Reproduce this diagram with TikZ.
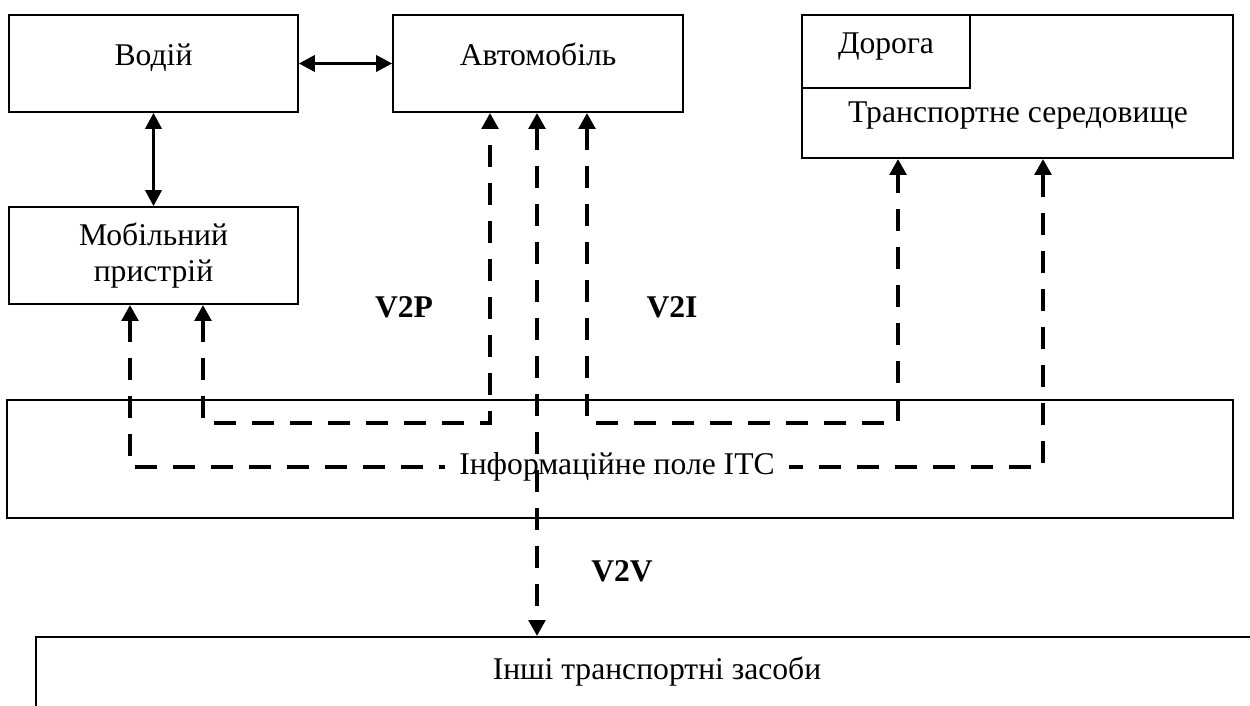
\documentclass[tikz,border=0pt]{standalone}
\usepackage{fontspec}
\setmainfont{Liberation Serif}
\usetikzlibrary{arrows.meta,positioning,calc}

\begin{document}
\begin{tikzpicture}[x=0.02cm,y=-0.02cm,>={Triangle[width=0.33cm,length=0.32cm]},
    block/.style={draw,line width=1.1pt,inner sep=0pt,font=\fontsize{18}{20}\selectfont},
    onerow/.style={text height=0.4cm,text depth=0.3cm},
    caption/.style={font=\fontsize{18}{20}\selectfont,inner sep=0pt},
    tag/.style={font=\fontsize{18}{20}\selectfont\bfseries,inner sep=0pt},
    link/.style={line width=1.4pt,<->},
    radio/.style={line width=2.8pt,dash pattern=on 0.44cm off 0.32cm,<->}]

    \useasboundingbox (0,0) rectangle (1250,706);
    \clip (0,0) rectangle (1250,706);

    \node[block,onerow,minimum width=5.78cm,minimum height=1.94cm] (vodii) at (153.5,63.5) {Водій};
    \node[block,onerow,minimum width=5.8cm,minimum height=1.94cm] (avto) at (538,63.5) {Автомобіль};
    \node[block,minimum width=5.78cm,minimum height=1.94cm,align=center] (mobil) at (153.5,255.5) {Мобільний\\пристрій};
    \node[block,minimum width=8.62cm,minimum height=2.86cm] (seredov) at (1017.5,86.5) {};
    \node[block,onerow,minimum width=3.36cm,minimum height=1.46cm] (doroga) at (886,51.5) {Дорога};
    \node[caption,anchor=base] (seredovtxt) at (1018,122) {Транспортне середовище};
    \node[block,minimum width=24.52cm,minimum height=2.36cm] (itc) at (620,459) {};
    \node[block,minimum width=25.3cm,minimum height=2.5cm,anchor=north west] (inshi) at (35,636) {};
    \node[caption] (inshitxt) at (657,672) {Інші транспортні засоби};

    \coordinate (rail1) at (0,423);
    \coordinate (rail2) at (0,467);
    \coordinate (m1) at ([xshift=-0.47cm]mobil.south);
    \coordinate (m2) at ([xshift=0.99cm]mobil.south);
    \coordinate (a1) at ([xshift=-0.96cm]avto.south);
    \coordinate (a2) at ([xshift=-0.02cm]avto.south);
    \coordinate (a3) at ([xshift=0.98cm]avto.south);
    \coordinate (s1) at ([xshift=-2.39cm]seredov.south);
    \coordinate (s2) at ([xshift=0.51cm]seredov.south);

    \draw[link] (vodii) -- (avto);
    \draw[link] (vodii) -- (mobil);

    \draw[radio] (m1) -- (m1 |- rail2) -- (s2 |- rail2) -- (s2);
    \node[caption,fill=white,inner xsep=0.28cm,inner ysep=2pt] (itctxt) at (617,467) {Інформаційне поле ITC};
    \draw[radio] (m2) -- (m2 |- rail1) -- (a1 |- rail1) -- (a1);
    \draw[radio] (a3) -- (a3 |- rail1) -- (s1 |- rail1) -- (s1);
    \draw[radio] (a2) -- (a2 |- inshi.north);

    \node[tag] (v2p) at (404,307) {V2P};
    \node[tag] (v2i) at (672,307) {V2I};
    \node[tag] (v2v) at (622,571) {V2V};

\end{tikzpicture}
\end{document}
